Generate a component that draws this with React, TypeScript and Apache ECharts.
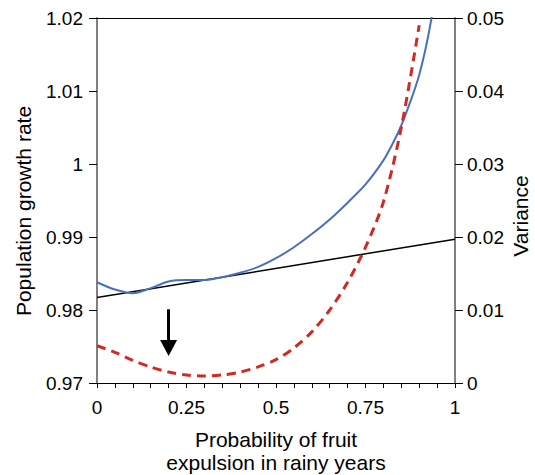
import React, { useEffect, useRef } from "react";
import * as echarts from "echarts";

const xTickLabels = ["0", "0.25", "0.5", "0.75", "1"];
const growthX = [0, 0.05, 0.1, 0.15, 0.2, 0.25, 0.3, 0.35, 0.4, 0.45, 0.5, 0.55, 0.6, 0.65, 0.7, 0.75, 0.8, 0.825, 0.85, 0.875, 0.9, 0.925, 0.95];
const growthRate = [0.9838, 0.9828, 0.9823, 0.983, 0.9839, 0.9841, 0.9841, 0.9845, 0.9851, 0.9859, 0.9871, 0.9886, 0.9904, 0.9924, 0.9947, 0.9972, 1.0005, 1.0027, 1.0053, 1.0085, 1.0122, 1.0175, 1.0245];
const varianceX = [0, 0.05, 0.1, 0.15, 0.2, 0.25, 0.3, 0.35, 0.4, 0.45, 0.5, 0.55, 0.6, 0.65, 0.7, 0.75, 0.8, 0.85, 0.9];
const variance = [0.0051, 0.0042, 0.0031, 0.0022, 0.0015, 0.0011, 0.00095, 0.0011, 0.0015, 0.0022, 0.0032, 0.0048, 0.007, 0.01, 0.0138, 0.0186, 0.0248, 0.035, 0.049];
const trendX = [0, 1];
const trendY = [0.9817, 0.9897];
const arrowX = 0.2;
const arrowFrom = 0.9801;
const arrowTo = 0.9748;
const leftTitle = "Population growth rate";
const rightTitle = "Variance";
const bottomTitle = "Probability of fruit\nexpulsion in rainy years";

const FONT = "Liberation Sans, Arial, sans-serif";

export default function App() {
  const ref = useRef<HTMLDivElement>(null);
  useEffect(() => {
    if (!ref.current) return;
    const chart = echarts.init(ref.current, undefined, { renderer: "svg" });
    const label = { color: "#000", fontSize: 19, fontFamily: FONT };
    chart.setOption({
      animation: false,
      backgroundColor: "#fff",
      grid: { left: 97, right: 80, top: 18, bottom: 92, outerBoundsMode: "none", containLabel: false },
      graphic: [
        {
          type: "text",
          x: 23,
          y: 211,
          rotation: Math.PI / 2,
          style: {
            text: leftTitle,
            fill: "#000",
            fontSize: 21,
            fontFamily: FONT,
            align: "center",
            verticalAlign: "middle",
          },
        },
        {
          type: "text",
          x: 520,
          y: 216,
          rotation: Math.PI / 2,
          style: {
            text: rightTitle,
            fill: "#000",
            fontSize: 21,
            fontFamily: FONT,
            align: "center",
            verticalAlign: "middle",
          },
        },
      ],
      xAxis: [
        {
          type: "value",
          min: 0,
          max: 1,
          interval: 0.25,
          position: "bottom",
          name: bottomTitle,
          nameLocation: "middle",
          nameGap: 45,
          nameTextStyle: { color: "#000", fontSize: 21, fontFamily: FONT, lineHeight: 23 },
          axisLine: { show: true, onZero: false, lineStyle: { color: "#000", width: 1 } },
          axisTick: { show: true, length: 5, lineStyle: { color: "#000" } },
          minorTick: { show: true, splitNumber: 5, length: 5, lineStyle: { color: "#000" } },
          axisLabel: {
            ...label,
            margin: 15,
            formatter: (v: number) => xTickLabels[Math.round(v / 0.25)] ?? "",
          },
          splitLine: { show: false },
          minorSplitLine: { show: false },
        },
        {
          type: "value",
          min: 0,
          max: 1,
          position: "top",
          axisLine: { show: true, onZero: false, lineStyle: { color: "#000", width: 1 } },
          axisTick: { show: false },
          axisLabel: { show: false },
          splitLine: { show: false },
        },
      ],
      yAxis: [
        {
          type: "value",
          min: 0.97,
          max: 1.02,
          interval: 0.01,
          position: "left",
          axisLine: { show: true, onZero: false, lineStyle: { color: "#808080", width: 2 } },
          axisTick: { show: true, inside: false, length: 8, lineStyle: { color: "#000" } },
          axisLabel: { ...label, margin: 14 },
          splitLine: { show: false },
        },
        {
          type: "value",
          min: 0,
          max: 0.05,
          interval: 0.01,
          position: "right",
          axisLine: { show: true, onZero: false, lineStyle: { color: "#808080", width: 2 } },
          axisTick: { show: true, inside: false, length: 8, lineStyle: { color: "#000" } },
          axisLabel: { ...label, margin: 12 },
          splitLine: { show: false },
        },
      ],
      series: [
        {
          type: "line",
          xAxisIndex: 0,
          yAxisIndex: 0,
          data: trendX.map((x, i) => [x, trendY[i]]),
          showSymbol: false,
          silent: true,
          lineStyle: { color: "#000", width: 1.5 },
          markLine: {
            silent: true,
            symbol: ["none", "triangle"],
            symbolSize: [17, 16],
            label: { show: false },
            lineStyle: { color: "#000", width: 3, type: "solid" },
            data: [[{ coord: [arrowX, arrowFrom] }, { coord: [arrowX, arrowTo] }]],
          },
        },
        {
          type: "line",
          xAxisIndex: 0,
          yAxisIndex: 0,
          data: growthX.map((x, i) => [x, growthRate[i]]),
          showSymbol: false,
          smooth: 0.3,
          silent: true,
          lineStyle: { color: "#4a6fbd", width: 2 },
        },
        {
          type: "line",
          xAxisIndex: 0,
          yAxisIndex: 1,
          data: varianceX.map((x, i) => [x, variance[i]]),
          showSymbol: false,
          smooth: 0.3,
          silent: true,
          lineStyle: { color: "#d02b22", width: 3, type: [9, 6] },
        },
      ],
    });
    return () => chart.dispose();
  }, []);
  return (
    <div
      ref={ref}
      style={{ position: "fixed", left: 0, top: 0, width: 535, height: 475 }}
    />
  );
}
